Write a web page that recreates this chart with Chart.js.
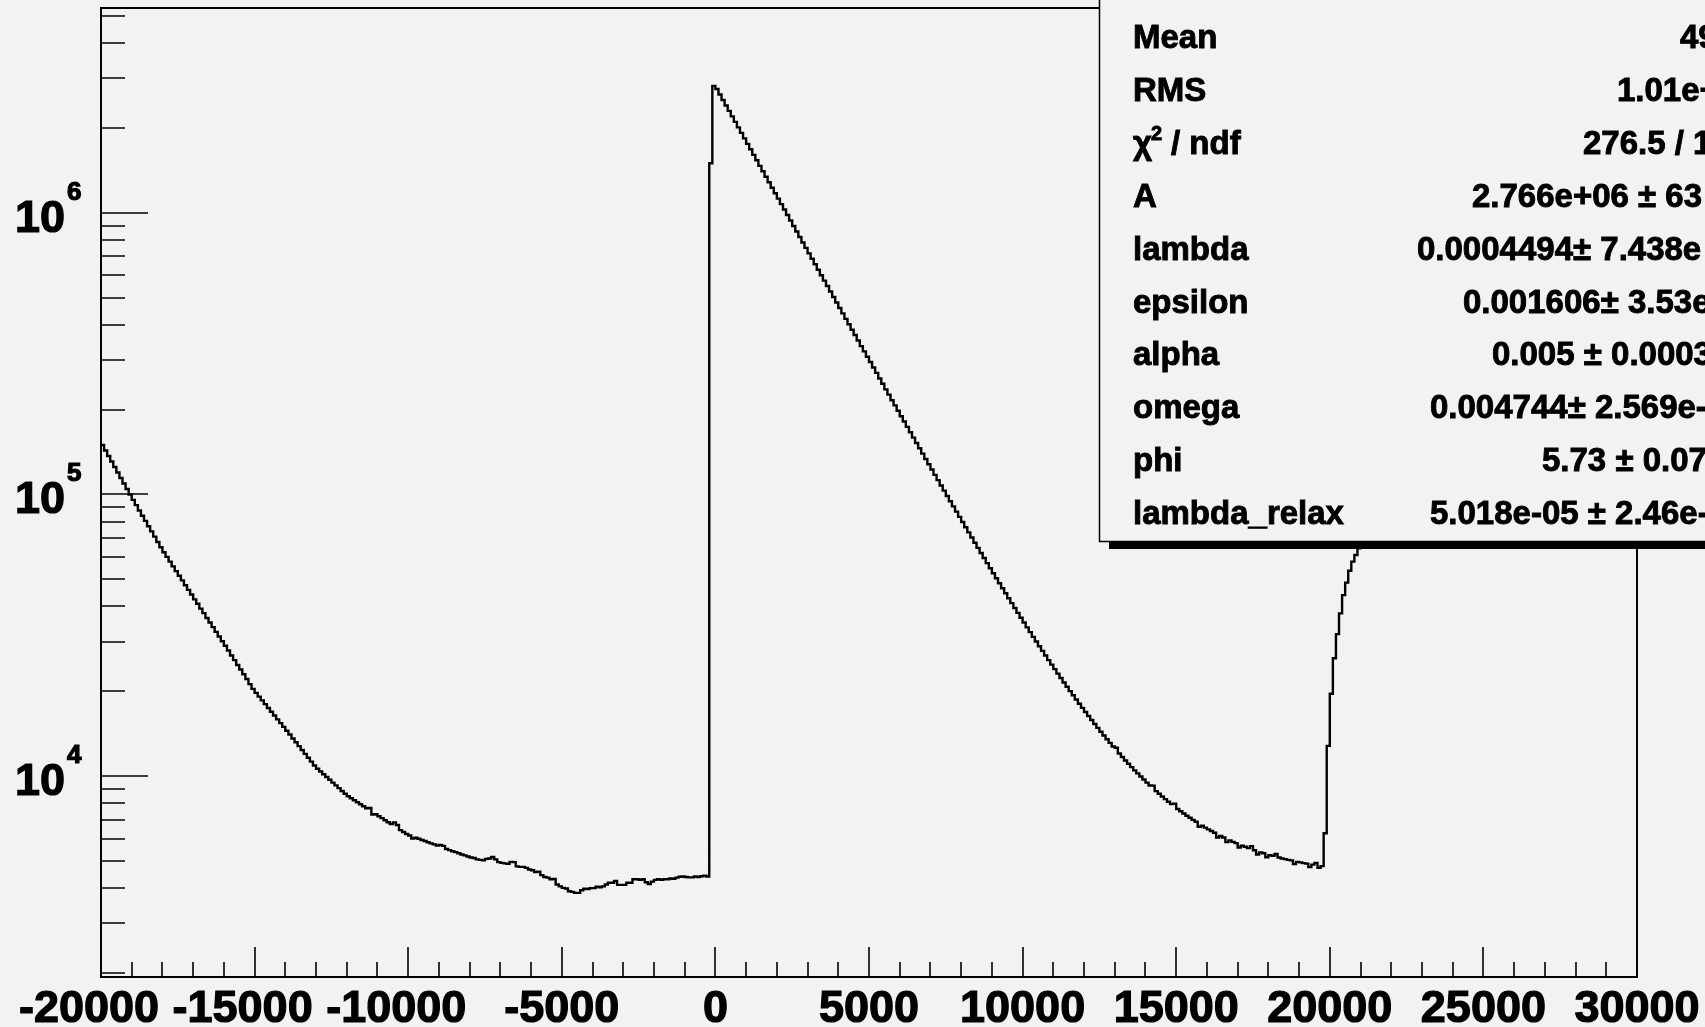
<!DOCTYPE html>
<html>
<head>
<meta charset="utf-8">
<script src="https://cdn.jsdelivr.net/npm/chart.js@4.4.0/dist/chart.umd.min.js"></script>
<style>
  html, body { margin: 0; padding: 0; background: #f2f2f2; overflow: hidden; }
  canvas { display: block; }
</style>
</head>
<body>
<canvas id="histo" width="1705" height="1027"></canvas>
<script>
// binning of the histogram
const firstEdge = -20000;
const binWidth = 100;

// counts, tail of the previous pulse (bins -20000 .. -300)
const leftTail = [
  149700, 143100, 136800, 130800, 125100, 119600, 114300, 109300, 104500, 99900,
  95600, 91600, 87700, 84000, 80500, 77100, 73900, 70800, 67800, 64900,
  62300, 60000, 57700, 55500, 53400, 51400, 49500, 47600, 45800, 44100,
  42400, 40900, 39300, 37900, 36400, 35100, 33800, 32500, 31300, 30100,
  29000, 27900, 26800, 25800, 24800, 23900, 23000, 22100, 21200, 20400,
  19740, 19140, 18560, 18000, 17450, 16920, 16400, 15900, 15420, 14950,
  14490, 14040, 13600, 13180, 12770, 12370, 11990, 11610, 11250, 10900,
  10620, 10380, 10150, 9920, 9700, 9480, 9270, 9060, 8850, 8650,
  8480, 8340, 8210, 8070, 7940, 7810, 7690, 7700, 7300, 7320,
  7200, 7090, 6970, 6860, 6750, 6850, 6700, 6430, 6330, 6230,
  6150, 6000, 6040, 5990, 5930, 5880, 5820, 5770, 5720, 5670,
  5700, 5650, 5510, 5460, 5410, 5370, 5320, 5270, 5230, 5180,
  5140, 5120, 5060, 5040, 5020, 5080, 5100, 5160, 5060, 4950,
  4920, 4900, 4880, 4960, 4950, 4780, 4760, 4760, 4720, 4660,
  4630, 4560, 4580, 4450, 4380, 4360, 4300, 4310, 4120, 4060,
  4010, 3990, 3900, 3880, 3850, 3850, 3930, 3980, 3970, 4000,
  4000, 4050, 4030, 4060, 4120, 4180, 4180, 4240, 4110, 4110,
  4110, 4180, 4180, 4300, 4300, 4280, 4300, 4200, 4140, 4220,
  4280, 4300, 4280, 4300, 4300, 4330, 4320, 4360, 4390, 4400,
  4380, 4370, 4370, 4400, 4380, 4410, 4430, 4400
];

// counts, main pulse and its decay (bins -200 .. 19700)
const pulseDecay = [
  1498000, 2820000,
  2749000, 2629000, 2513000, 2403000, 2298000, 2197000, 2101000, 2009000, 1920000, 1836000,
  1756000, 1679000, 1605000, 1535000, 1467000, 1403000, 1342000, 1283000, 1227000, 1173000,
  1122000, 1073000, 1026000, 981000, 938000, 897000, 858000, 820000, 784000, 750000,
  717000, 686000, 656000, 627000, 600000, 574000, 549000, 525000, 502000, 480000,
  459000, 439000, 420000, 402000, 384000, 368000, 352000, 336000, 322000, 308000,
  295000, 282000, 270000, 258000, 247000, 236000, 226000, 216000, 207000, 198000,
  189500, 181400, 173600, 166200, 159100, 152300, 145800, 139600, 133600, 127900,
  122500, 117300, 112400, 107600, 103100, 98750, 94600, 90640, 86850, 83230,
  79760, 76450, 73280, 70260, 67360, 64600, 61950, 59420, 57000, 54690,
  52480, 50370, 48350, 46420, 44570, 42800, 41120, 39500, 37960, 36490,
  35080, 33730, 32440, 31210, 30030, 28900, 27830, 26800, 25810, 24870,
  23970, 23110, 22290, 21500, 20750, 20030, 19350, 18690, 18060, 17460,
  16890, 16340, 15810, 15310, 14830, 14370, 13940, 13520, 13120, 12730,
  12600, 12020, 11680, 11360, 11060, 10760, 10480, 10220, 9960, 9720,
  9480, 9260, 9250, 8840, 8650, 8460, 8280, 8110, 7950, 7980,
  7640, 7500, 7360, 7230, 7110, 6990, 6880, 6600, 6660, 6560,
  6470, 6380, 6290, 6050, 6130, 6050, 5830, 5910, 5840, 5780,
  5580, 5660, 5610, 5550, 5640, 5450, 5270, 5360, 5320, 5150,
  5240, 5210, 5290, 5140, 5100, 5070, 5040, 5020, 4870, 4960,
  4940, 4910, 4890, 4750, 4850, 4920, 4720, 4790
];

// counts, start of the next pulse (bins 19800 .. 21200)
const secondRise = [
  6270, 12800, 19600, 26200, 31900, 37800, 43900, 48600, 53600, 57700,
  60900, 64400, 68000, 71500, 75000
];

// axes
const xRange = [-20000, 30000];
const yRange = [1935, 5.33e6];
const xLabelValues = [-20000, -15000, -10000, -5000, 0, 5000, 10000, 15000, 20000, 25000, 30000];
const yLabelPowers = [4, 5, 6];

// stats box (right side is cut by the canvas edge, as in the source)
const statNames = ["Mean", "RMS", "chi2", "A", "lambda", "epsilon", "alpha", "omega", "phi", "lambda_relax"];
const statValues = [
  "49", "1.01e+", "276.5 / 1", "2.766e+06 \u00b1 63", "0.0004494\u00b1 7.438e",
  "0.001606\u00b1 3.53e", "0.005 \u00b1 0.0003", "0.004744\u00b1 2.569e-", "5.73 \u00b1 0.07",
  "5.018e-05 \u00b1 2.46e-"
];
const statValueLeft = [1680, 1617, 1583, 1472, 1417, 1463, 1492, 1430, 1542, 1430];

const counts = leftTail.concat(pulseDecay, secondRise);
const points = counts.map((c, i) => ({ x: firstEdge + i * binWidth, y: c }));
points.push({ x: firstEdge + counts.length * binWidth, y: counts[counts.length - 1] });

const FONT = "'Liberation Sans', Arial, Helvetica, sans-serif";

// heavy text, like the old ROOT gif output
function boldText(ctx, str, x, y) {
  ctx.fillText(str, x, y);
  ctx.strokeText(str, x, y);
}

const rootFrame = {
  id: "rootFrame",
  beforeDraw(chart) {
    const { ctx, width, height } = chart;
    ctx.save();
    ctx.fillStyle = "#f2f2f2";
    ctx.fillRect(0, 0, width, height);
    ctx.restore();
  },
  afterDatasetsDraw(chart) {
    const { ctx, chartArea: a } = chart;
    const x = chart.scales.x;
    const y = chart.scales.y;
    ctx.save();
    ctx.strokeStyle = "#000";
    ctx.lineWidth = 1.6;
    ctx.beginPath();
    // x ticks, inside the frame
    for (let v = xRange[0]; v <= xRange[1]; v += 1000) {
      const px = Math.round(x.getPixelForValue(v));
      const len = v % 5000 === 0 ? 30 : 15;
      ctx.moveTo(px, a.bottom);
      ctx.lineTo(px, a.bottom - len);
    }
    // y ticks, log decades
    for (let d = 3; d <= 6; d++) {
      for (let m = 1; m <= 9; m++) {
        const v = m * Math.pow(10, d);
        if (v < yRange[0] || v > yRange[1]) continue;
        const py = Math.round(y.getPixelForValue(v));
        ctx.moveTo(a.left, py);
        ctx.lineTo(a.left + (m === 1 ? 47 : 24), py);
      }
    }
    ctx.stroke();

    ctx.lineWidth = 2;
    ctx.strokeRect(a.left, a.top, a.right - a.left, a.bottom - a.top);

    ctx.fillStyle = "#000";
    ctx.lineWidth = 1.2;
    ctx.font = "bold 45px " + FONT;
    ctx.textAlign = "center";
    ctx.textBaseline = "alphabetic";
    xLabelValues.forEach((v) => {
      // long negative labels sit a little left of their tick in the source
      const shift = v <= -10000 ? -12 : 0;
      boldText(ctx, String(v), x.getPixelForValue(v) + shift, 1022);
    });

    ctx.textAlign = "left";
    yLabelPowers.forEach((p) => {
      const py = y.getPixelForValue(Math.pow(10, p));
      ctx.font = "bold 45px " + FONT;
      boldText(ctx, "10", 15, py + 19);
      ctx.font = "bold 26px " + FONT;
      boldText(ctx, String(p), 67, py - 13);
    });
    ctx.restore();
  },
};

const statBox = {
  id: "statBox",
  afterDraw(chart) {
    const { ctx } = chart;
    ctx.save();
    // shadow
    ctx.fillStyle = "#000";
    ctx.fillRect(1109, 542, 700, 7);
    // box
    ctx.fillStyle = "#f2f2f2";
    ctx.fillRect(1099, -10, 700, 552);
    ctx.strokeStyle = "#000";
    ctx.lineWidth = 1.5;
    ctx.strokeRect(1099.5, -10, 700, 551.5);

    ctx.fillStyle = "#000";
    ctx.lineWidth = 0.9;
    ctx.textAlign = "left";
    ctx.textBaseline = "alphabetic";
    statNames.forEach((name, i) => {
      const base = 48 + i * 52.9;
      ctx.font = "bold 33px " + FONT;
      if (name === "chi2") {
        boldText(ctx, "\u03c7", 1133, base);
        ctx.font = "bold 20px " + FONT;
        boldText(ctx, "2", 1151, base - 14);
        ctx.font = "bold 33px " + FONT;
        boldText(ctx, "/ ndf", 1171, base);
      } else {
        boldText(ctx, name, 1133, base);
      }
      boldText(ctx, statValues[i], statValueLeft[i], base);
    });
    ctx.restore();
  },
};

new Chart(document.getElementById("histo"), {
  type: "line",
  data: {
    datasets: [
      {
        label: "counts",
        data: points,
        borderColor: "#000",
        borderWidth: 2.4,
        pointRadius: 0,
        stepped: true,
        fill: false,
      },
    ],
  },
  options: {
    responsive: false,
    animation: false,
    events: [],
    layout: { padding: { left: 101, top: 8, right: 68, bottom: 50 } },
    plugins: {
      legend: { display: false },
      tooltip: { enabled: false },
    },
    scales: {
      x: { type: "linear", min: xRange[0], max: xRange[1], display: false },
      y: { type: "logarithmic", min: yRange[0], max: yRange[1], display: false },
    },
  },
  plugins: [rootFrame, statBox],
});
</script>
</body>
</html>
